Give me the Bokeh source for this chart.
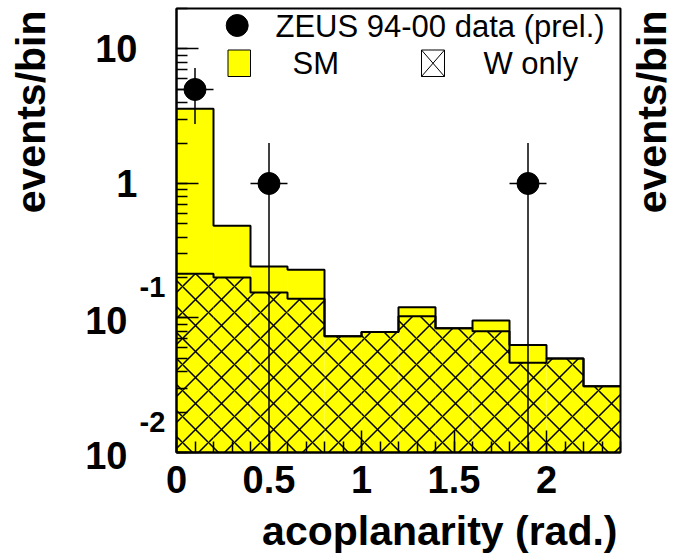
from math import log10, pi

from bokeh.embed import file_html
from bokeh.models import CustomJSTickFormatter, Label, SingleIntervalTicker
from bokeh.plotting import figure
from bokeh.resources import INLINE

# Acoplanarity histogram: bin edges (rad.)
bin_edges = [0.0, 0.2, 0.4, 0.6, 0.8, 1.0, 1.2, 1.4, 1.6, 1.8, 2.0, 2.2, 2.4]

# Standard Model expectation per bin
sm_expect = [3.6, 0.485, 0.241, 0.228, 0.0731, 0.0787, 0.120, 0.0838, 0.096, 0.063, 0.050, 0.0311]

# W production alone per bin
w_only = [0.213, 0.200, 0.155, 0.139, 0.0731, 0.0787, 0.103, 0.0838, 0.0797, 0.0464, 0.050, 0.0311]

# ZEUS 94-00 data (preliminary): bin centres, counts, errors
data_x = [0.1, 0.5, 1.9]
data_y = [5.0, 1.0, 1.0]
data_err = [2.236, 1.0, 1.0]
data_xerr = [0.1, 0.1, 0.1]

# negative decades of the y axis, labelled as "10" with a raised exponent
y_neg_decades = [0.1, 0.01]
y_exponents = ["-1", "-2"]

# Histogram box on the canvas (pixels) and its data limits
W, H = 675, 558
L, R, T, B = 176, 620, 8, 452
X0, X1 = 0.0, 2.4
Y0, Y1 = 0.01, 20.0


def xd(px):
    return X0 + (px - L) / (R - L) * (X1 - X0)


def yd(py):
    return 10 ** (log10(Y0) + (B - py) / (B - T) * (log10(Y1) - log10(Y0)))


def text_label(x, y, text, size, bold=True, units="canvas", **kw):
    return Label(x=x, y=y, x_units=units, y_units=units, text=text,
                 text_font="Liberation Sans",
                 text_font_style="bold" if bold else "normal",
                 text_font_size=size, text_color="black", **kw)


# the frame spans the whole canvas; the ranges are widened so that the
# histogram box sits at (L..R, T..B) and the axes float at its edges
p = figure(
    width=W, height=H,
    x_range=(xd(0), xd(W)), y_range=(yd(H), yd(0)), y_axis_type="log",
    output_backend="svg", toolbar_location=None,
    min_border_left=0, min_border_right=0, min_border_top=0, min_border_bottom=0,
)
p.grid.visible = False
p.background_fill_color = "white"
p.border_fill_color = "white"
p.outline_line_color = None

# x axis: ticks drawn inward, labels below
p.xaxis.fixed_location = Y0
p.xaxis.bounds = (X0, X1)
p.xaxis.ticker = SingleIntervalTicker(interval=0.5, num_minor_ticks=5)
p.xaxis.axis_line_width = 2
p.xaxis.major_tick_in = 22
p.xaxis.major_tick_out = 0
p.xaxis.minor_tick_in = 11
p.xaxis.minor_tick_out = 0
p.xaxis.major_tick_line_width = 1.5
p.xaxis.minor_tick_line_width = 1.5
p.xaxis.major_label_text_font = "Liberation Sans"
p.xaxis.major_label_text_font_style = "bold"
p.xaxis.major_label_text_font_size = "38px"
p.xaxis.major_label_text_color = "black"
p.xaxis.major_label_standoff = 13

# y axis (log): the positive decades are labelled by the axis itself
p.yaxis.fixed_location = X0
p.yaxis.bounds = (Y0, Y1)
p.yaxis.axis_line_width = 2
p.yaxis.major_tick_in = 22
p.yaxis.major_tick_out = 0
p.yaxis.minor_tick_in = 11
p.yaxis.minor_tick_out = 0
p.yaxis.major_tick_line_width = 1.5
p.yaxis.minor_tick_line_width = 1.5
p.yaxis.major_label_text_font = "Liberation Sans"
p.yaxis.major_label_text_font_style = "bold"
p.yaxis.major_label_text_font_size = "38px"
p.yaxis.major_label_text_color = "black"
p.yaxis.major_label_standoff = 39
p.yaxis.formatter = CustomJSTickFormatter(code="""
const e = Math.round(Math.log10(tick));
if (e === 1) return "10";
if (e === 0) return "1";
return "";
""")

lefts = bin_edges[:-1]
rights = bin_edges[1:]

# SM histogram: yellow fill + step outline
p.quad(left=lefts, right=rights, top=sm_expect, bottom=Y0,
       fill_color="#ffff00", line_color=None)
p.step(x=bin_edges, y=sm_expect + [sm_expect[-1]], mode="after",
       line_color="black", line_width=2)

# W-only histogram: cross hatch + step outline
p.quad(left=lefts, right=rights, top=w_only, bottom=Y0,
       fill_alpha=0, line_color=None,
       hatch_pattern="x", hatch_color="black", hatch_scale=26, hatch_weight=1.5)
p.step(x=bin_edges, y=w_only + [w_only[-1]], mode="after",
       line_color="black", line_width=2)

# data points with error bars
lo = [max(v - e, Y0) for v, e in zip(data_y, data_err)]
hi = [v + e for v, e in zip(data_y, data_err)]
p.segment(x0=data_x, y0=lo, x1=data_x, y1=hi, line_color="black", line_width=1.5)
p.segment(x0=[x - e for x, e in zip(data_x, data_xerr)], y0=data_y,
          x1=[x + e for x, e in zip(data_x, data_xerr)], y1=data_y,
          line_color="black", line_width=1.5)
p.scatter(x=data_x, y=data_y, marker="circle", size=22,
          fill_color="black", line_color="black")

# box around the histogram area
p.quad(left=[X0], right=[X1], bottom=[Y0], top=[Y1],
       fill_alpha=0, line_color="black", line_width=2)

# labels of the negative decades
for val, ex in zip(y_neg_decades, y_exponents):
    p.add_layout(text_label(xd(127), val, "10", "38px", units="data",
                            text_align="right", text_baseline="middle", y_offset=-3))
    p.add_layout(text_label(xd(139), val, ex, "29px", units="data",
                            text_align="left", text_baseline="middle", y_offset=31))

# axis titles
p.add_layout(text_label(617, 530, "acoplanarity (rad.)", "41px",
                        text_align="right", text_baseline="alphabetic"))
for bx in (30, 651):
    p.add_layout(text_label(bx, 10, "events/bin", "41px", angle=pi / 2,
                            text_align="right", text_baseline="alphabetic"))

# legend
p.scatter(x=[xd(236.7)], y=[yd(25)], marker="circle", size=22,
          fill_color="black", line_color="black")
p.add_layout(text_label(275, 25.5, "ZEUS 94-00 data (prel.)", "31px", bold=False,
                        text_align="left", text_baseline="alphabetic"))
p.quad(left=[xd(227.5)], right=[xd(250)], top=[yd(49.5)], bottom=[yd(76)],
       fill_color="#ffff00", line_color="black", line_width=1)
p.add_layout(text_label(292, 63, "SM", "31px", bold=False,
                        text_align="left", text_baseline="alphabetic"))
p.quad(left=[xd(421)], right=[xd(444)], top=[yd(49.5)], bottom=[yd(76)],
       fill_color="white", line_color="black", line_width=1)
p.segment(x0=[xd(421), xd(421)], y0=[yd(49.5), yd(76)],
          x1=[xd(444), xd(444)], y1=[yd(76), yd(49.5)],
          line_color="black", line_width=1)
p.add_layout(text_label(483, 63, "W only", "31px", bold=False,
                        text_align="left", text_baseline="alphabetic"))

open("out.html", "w").write(file_html(p, INLINE))
